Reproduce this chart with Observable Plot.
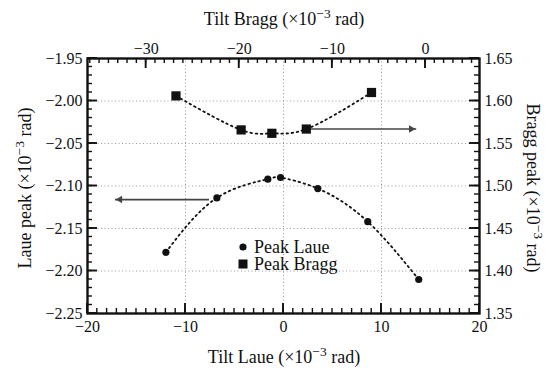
<!DOCTYPE html>
<html><head><meta charset="utf-8">
<script src="https://cdn.jsdelivr.net/npm/d3@7"></script>
<script src="https://cdn.jsdelivr.net/npm/@observablehq/plot@0.6"></script>
<style>
html,body{margin:0;padding:0;background:#fff}
svg text{font-family:'Liberation Serif','DejaVu Serif',serif}
</style>
</head><body><div id="chart"></div>
<script>
// Laue data (primary axes)
const laueTilt = [-12.0, -6.8, -1.6, -0.3, 3.5, 8.6, 13.8];
const lauePeak = [-2.178, -2.114, -2.092, -2.090, -2.103, -2.142, -2.210];
// Bragg data (secondary axes)
const braggTilt = [-26.8, -19.8, -16.5, -12.8, -5.8];
const braggPeak = [1.606, 1.566, 1.562, 1.567, 1.610];
// arrows
const laueArrowX = [-7.6, -17.2];
const laueArrowY = -2.116;
const braggArrowX = [-12.4, -1.0];
const braggArrowY = 1.567;
// axes
const laueDomain = [-20, 20];
const braggDomain = [-36.3, 5.8];
const laueYDomain = [-2.25, -1.95];
const braggYDomain = [1.35, 1.65];
const laueTicks = [-20, -10, 0, 10, 20];
const braggTicks = [-30, -20, -10, 0];
const laueYTicks = [-1.95, -2.00, -2.05, -2.10, -2.15, -2.20, -2.25];
const braggYTicks = [1.65, 1.60, 1.55, 1.50, 1.45, 1.40, 1.35];
const gridX = [-10, 0, 10];
const gridY = [-2.00, -2.05, -2.10, -2.15, -2.20];
const legendLabels = ["Peak Laue", "Peak Bragg"];

const bx = d3.scaleLinear(braggDomain, laueDomain);
const by = d3.scaleLinear(braggYDomain, laueYDomain);
const minus = s => s.replace("-", "\u2212");
const fmtInt = d => minus(String(Math.round(d)));
const fmt2 = d => minus(d.toFixed(2));

const laue = laueTilt.map((x, i) => ({x, y: lauePeak[i]}));
const bragg = braggTilt.map((x, i) => ({x: bx(x), y: by(braggPeak[i])}));
const arrows = [
  {x1: laueArrowX[0], x2: laueArrowX[1], y: laueArrowY, dir: -1},
  {x1: bx(braggArrowX[0]), x2: bx(braggArrowX[1]), y: by(braggArrowY), dir: 1}
];

const xMinor = d3.range(laueDomain[0], laueDomain[1] + 0.5, 1);
const xTopMinor = d3.range(-36, 6, 1).map(bx);
const yMinor = d3.range(0, 31).map(i => laueYDomain[0] + i * 0.01);

const W = 548, H = 371, mL = 87, mR = 69, mT = 58, mB = 58;
const ink = "#111";
const ff = "'Liberation Serif', 'DejaVu Serif', serif";

const svg = Plot.plot({
  width: W, height: H,
  marginLeft: mL, marginRight: mR, marginTop: mT, marginBottom: mB,
  style: {fontSize: "16px", color: ink, background: "#fff"},
  x: {domain: laueDomain, label: null},
  y: {domain: laueYDomain, label: null},
  marks: [
    Plot.gridX(gridX, {stroke: "#999", strokeOpacity: 1, strokeDasharray: "1,2.5"}),
    Plot.gridY(gridY, {stroke: "#999", strokeOpacity: 1, strokeDasharray: "1,2.5"}),
    Plot.axisX({anchor: "bottom", ticks: laueTicks, tickSize: 0, tickPadding: 7, tickFormat: fmtInt, label: null, fontFamily: ff, fontSize: 16}),
    Plot.axisX({anchor: "top", ticks: braggTicks.map(bx), tickSize: 0, tickPadding: 5, tickFormat: d => fmtInt(bx.invert(d)), label: null, fontFamily: ff, fontSize: 16}),
    Plot.axisY({anchor: "left", ticks: laueYTicks, tickSize: 0, tickPadding: 5, tickFormat: fmt2, label: null, fontFamily: ff, fontSize: 16}),
    Plot.axisY({anchor: "right", ticks: laueYTicks, tickSize: 0, tickPadding: 5, tickFormat: d => fmt2(by.invert(d)), label: null, fontFamily: ff, fontSize: 16}),
    Plot.frame({stroke: ink, strokeWidth: 2.4}),
    Plot.line(laue, {x: "x", y: "y", curve: "natural", stroke: ink, strokeWidth: 1.8, strokeDasharray: "1.6,3.6"}),
    Plot.line(bragg, {x: "x", y: "y", curve: "natural", stroke: ink, strokeWidth: 1.8, strokeDasharray: "1.6,3.6"}),
    Plot.link(arrows, {x1: "x1", x2: "x2", y1: "y", y2: "y", stroke: "#444", strokeWidth: 1.6}),
    Plot.dot(arrows.filter(d => d.dir < 0), {x: "x2", y: "y", symbol: "triangle2", r: 3.6, fill: "#444", rotate: -90, dx: 5}),
    Plot.dot(arrows.filter(d => d.dir > 0), {x: "x2", y: "y", symbol: "triangle2", r: 3.6, fill: "#444", rotate: 90, dx: -5}),
    Plot.dot(laue, {x: "x", y: "y", r: 3.6, fill: ink, stroke: "none"}),
    Plot.dot(bragg, {x: "x", y: "y", symbol: "square", r: 5.2, fill: ink, stroke: "none"})
  ]
});

const s = d3.select(svg);
// inward ticks on all four sides, positioned with the plot's own scales
const sx = svg.scale("x"), sy = svg.scale("y");
const xs = v => sx.apply(v), ys = v => sy.apply(v);
const xL = W - mR - (W - mL - mR), xR = W - mR, yT = mT, yB = H - mB;
const tg = s.append("g").attr("stroke", ink);
function tickRow(vals, side, len, sw) {
  vals.forEach(v => {
    const l = tg.append("line").attr("stroke-width", sw);
    if (side === "bottom") l.attr("x1", xs(v)).attr("x2", xs(v)).attr("y1", yB).attr("y2", yB - len);
    if (side === "top") l.attr("x1", xs(v)).attr("x2", xs(v)).attr("y1", yT).attr("y2", yT + len);
    if (side === "left") l.attr("y1", ys(v)).attr("y2", ys(v)).attr("x1", xL).attr("x2", xL + len);
    if (side === "right") l.attr("y1", ys(v)).attr("y2", ys(v)).attr("x1", xR).attr("x2", xR - len);
  });
}
tickRow(xMinor, "bottom", 5, 1.4);
tickRow(xTopMinor, "top", 5, 1.4);
tickRow(yMinor, "left", 5, 1.4);
tickRow(yMinor, "right", 5, 1.4);
tickRow(laueTicks, "bottom", 10, 1.9);
tickRow(braggTicks.map(bx), "top", 10, 1.9);
tickRow(laueYTicks, "left", 10, 1.9);
tickRow(laueYTicks, "right", 10, 1.9);

function title(g, lead) {
  const t = g.append("text").attr("font-family", ff).attr("font-size", 18).attr("fill", ink).attr("text-anchor", "middle");
  t.append("tspan").text(lead);
  t.append("tspan").attr("dy", -7).attr("font-size", 13.5).text("\u22123");
  t.append("tspan").attr("dy", 7).text(" rad)");
  return t;
}
title(s.append("g").attr("transform", "translate(284,25)"), "Tilt Bragg (\u00d710");
title(s.append("g").attr("transform", "translate(284,363)"), "Tilt Laue (\u00d710");
title(s.append("g").attr("transform", "translate(31,188) rotate(-90)"), "Laue peak (\u00d710");
title(s.append("g").attr("transform", "translate(527,188) rotate(90)"), "Bragg peak (\u00d710");

const lg = s.append("g").attr("font-family", ff).attr("font-size", 18).attr("fill", ink).attr("text-anchor", "start");
lg.append("circle").attr("cx", 243).attr("cy", 247).attr("r", 3.6).attr("fill", ink);
lg.append("rect").attr("x", 238.5).attr("y", 259.5).attr("width", 9).attr("height", 9).attr("fill", ink);
lg.append("text").attr("x", 254).attr("y", 253).text(legendLabels[0]);
lg.append("text").attr("x", 254).attr("y", 270).text(legendLabels[1]);

document.getElementById("chart").appendChild(svg);
</script>
</body></html>
